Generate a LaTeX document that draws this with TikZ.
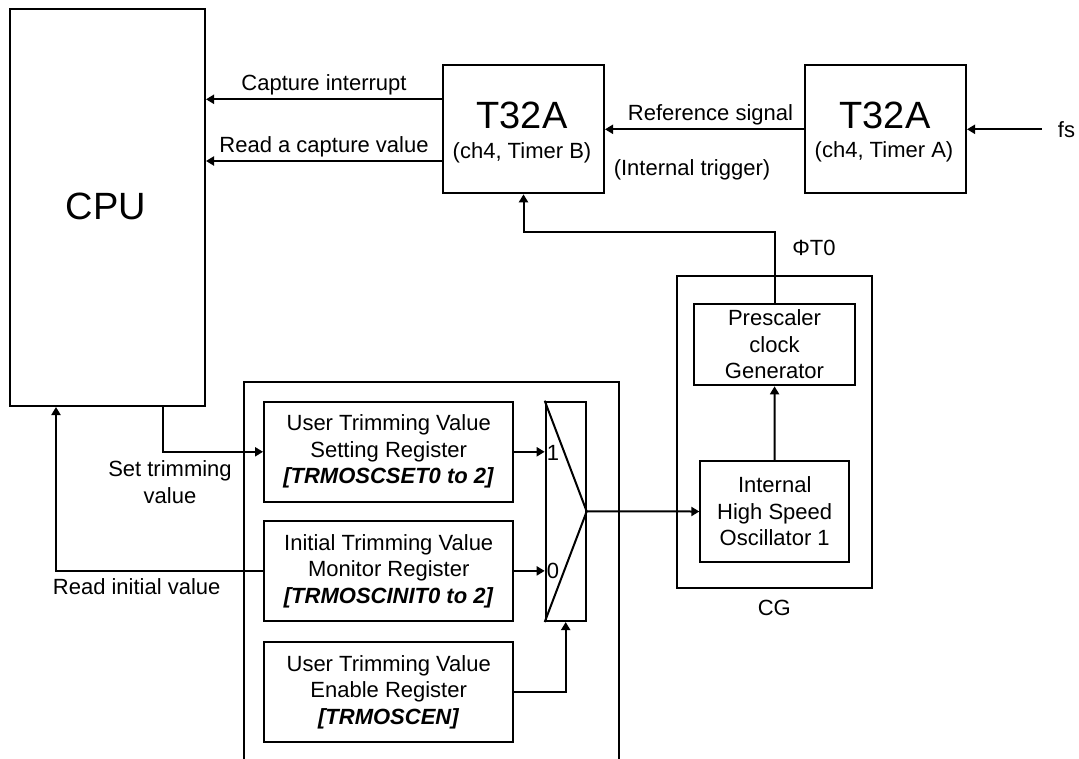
\documentclass[tikz,border=0pt]{standalone}
\usepackage{fontspec}
\setmainfont{Liberation Sans}
\usetikzlibrary{arrows.meta, positioning}

\begin{document}
\begin{tikzpicture}[
        x=1pt, y=-1pt,
        box/.style={draw, rectangle, line width=2pt, inner sep=0pt, align=center, font=\fontsize{22}{26.5}\selectfont},
        lbl/.style={inner sep=3pt, align=center, font=\fontsize{22}{27}\selectfont},
        big/.style={inner sep=0pt, font=\fontsize{38}{42}\selectfont},
        wire/.style={line width=2pt},
        >={Triangle[length=8pt, width=9pt]}
    ]
        \useasboundingbox (0,0) rectangle (1079,758);
        \clip (0,0) rectangle (1079,758);

        % Nodes
        \node[box, minimum width=195, minimum height=397] (cpu) at (107.5,207.5) {};
        \node[big] (cpuname) at (106,206) {CPU};

        \node[box, minimum width=161, minimum height=128] (timerB) at (523.5,129.3) {};
        \node[big] (nameB) at (522,115) {T32A};
        \node[lbl, inner sep=0pt] (chB) at (522,152.5) {(ch4, Timer B)};

        \node[box, minimum width=161, minimum height=128] (timerA) at (885.5,129.3) {};
        \node[big] (nameA) at (885,115) {T32A};
        \node[lbl, inner sep=0pt] (chA) at (884,152) {(ch4, Timer A)};

        \node[lbl, inner xsep=16pt, inner ysep=0pt] (fs) at (1066.5,129.3) {fs};
        \node[lbl] (trigger) at (692,170) {(Internal trigger)};

        \node[box, minimum width=195.3, minimum height=311.7] (cg) at (774.3,431.8) {};
        \node[lbl, below=8pt of cg] (cgname) {CG};
        \node[box, minimum width=161.6, minimum height=81.6] (presc) at (774.5,344.5) {Prescaler\\clock\\Generator};
        \node[box, minimum width=148.7, minimum height=101] (osc) at (774.7,511.5) {Internal\\High Speed\\Oscillator 1};
        \coordinate (bend) at (774.5,231.7);
        \node[lbl] (phi) at (814,248) {ΦT0};

        \node[box, minimum width=375.8, minimum height=400] (regs) at (431.4,582) {};
        \node[box, minimum width=249.3, minimum height=100.3] (setreg) at (388.7,451.8) {User Trimming Value\\Setting Register\\\textbf{\textit{[TRMOSCSET0 to 2]}}};
        \node[box, minimum width=249.3, minimum height=100.3] (initreg) at (388.7,570.9) {Initial Trimming Value\\Monitor Register\\\textbf{\textit{[TRMOSCINIT0 to 2]}}};
        \node[box, minimum width=249.3, minimum height=100.3] (enreg) at (388.7,691.9) {User Trimming Value\\Enable Register\\\textbf{\textit{[TRMOSCEN]}}};
        \node[box, minimum width=40, minimum height=219.3] (mux) at (565.7,511.4) {};
        \node[lbl, inner sep=0pt] (in1) at (553,453) {1};
        \node[lbl, inner sep=0pt] (in0) at (553,571) {0};

        \node[lbl] (setlbl) at (170,482) {Set trimming\\value};
        \node[lbl] (readlbl) at (136.7,586.7) {Read initial value};

        % Arrows
        \draw[wire, ->] ([yshift=30pt]timerB.west) -- ([yshift=30pt]timerB.west -| cpu.east) node[lbl, midway, above] (capint) {Capture interrupt};
        \draw[wire, ->] ([yshift=-31.7pt]timerB.west) -- ([yshift=-31.7pt]timerB.west -| cpu.east) node[lbl, midway, above] (capval) {Read a capture value};
        \draw[wire, ->] (timerA) -- (timerB) node[lbl, midway, above, xshift=6pt] (refsig) {Reference signal};
        \draw[wire, ->] (fs) -- (timerA);
        \draw[wire, ->] (presc.north) -- (bend) -| (timerB.south);
        \draw[wire, ->] (osc) -- (presc);
        \draw[wire] (mux.north west) -- (mux.east) -- (mux.south west);
        \draw[wire, ->] (mux.east) -- (osc.west);
        \draw[wire, ->] (setreg.east) -- (setreg.east -| mux.west);
        \draw[wire, ->] (initreg.east) -- (initreg.east -| mux.west);
        \draw[wire, ->] (enreg.east) -| (mux.south);
        \draw[wire, ->] ([xshift=55pt]cpu.south) |- (setreg.west);
        \draw[wire, ->] (initreg.west) -| ([xshift=-51.5pt]cpu.south);
    \end{tikzpicture}
\end{document}
